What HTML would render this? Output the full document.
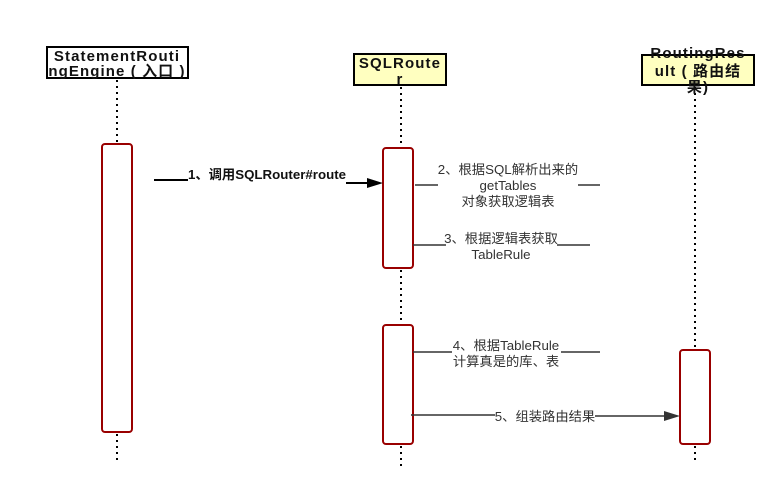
<!DOCTYPE html>
<html><head><meta charset="utf-8"><style>
html,body{margin:0;padding:0;background:#fff;width:779px;height:502px;overflow:hidden}
text{font-family:"Liberation Sans","Noto Sans CJK SC",sans-serif;font-size:13.3px;fill:#333}
.b{font-weight:bold;fill:#111}
.h{font-size:15px;letter-spacing:1.1px}
</style></head><body>
<svg width="779" height="502" viewBox="0 0 779 502" xmlns="http://www.w3.org/2000/svg">
<g stroke="#000" stroke-width="2" stroke-dasharray="2,4" fill="none">
<line x1="117" y1="80" x2="117" y2="143"/>
<line x1="117" y1="434" x2="117" y2="460"/>
<line x1="401" y1="87" x2="401" y2="147"/>
<line x1="401" y1="270" x2="401" y2="324"/>
<line x1="401" y1="446" x2="401" y2="466"/>
<line x1="695" y1="87" x2="695" y2="349"/>
<line x1="695" y1="446" x2="695" y2="460"/>
</g>
<rect x="47" y="47" width="141" height="31" fill="#fff" stroke="#000" stroke-width="2"/>
<rect x="354" y="54" width="92" height="31" fill="#ffffc0" stroke="#000" stroke-width="2"/>
<rect x="642" y="55" width="112" height="30" fill="#ffffc0" stroke="#000" stroke-width="2"/>
<text class="b h" x="117" y="61" text-anchor="middle">StatementRouti</text>
<text class="b h" x="117" y="76" text-anchor="middle">ngEngine ( 入口 )</text>
<text class="b h" x="400" y="68" text-anchor="middle">SQLRoute</text>
<text class="b h" x="400" y="84" text-anchor="middle">r</text>
<text class="b h" x="698" y="58" text-anchor="middle">RoutingRes</text>
<text class="b h" x="698" y="76" text-anchor="middle">ult ( 路由结</text>
<text class="b h" x="698" y="92" text-anchor="middle">果)</text>
<g fill="#fff" stroke="#990000" stroke-width="2">
<rect x="102" y="144" width="30" height="288" rx="3"/>
<rect x="383" y="148" width="30" height="120" rx="3"/>
<rect x="383" y="325" width="30" height="119" rx="3"/>
<rect x="680" y="350" width="30" height="94" rx="3"/>
</g>
<g stroke="#000" stroke-width="2">
<line x1="154" y1="180" x2="188" y2="180"/>
<line x1="346" y1="183" x2="370" y2="183"/>
</g>
<polygon points="383,183 367,178 367,188" fill="#000"/>
<text class="b" x="267" y="179" text-anchor="middle" font-size="13.5">1、调用SQLRouter#route</text>
<g stroke="#333" stroke-width="1.5">
<line x1="415" y1="185" x2="438" y2="185"/>
<line x1="578" y1="185" x2="600" y2="185"/>
<line x1="413" y1="245" x2="446" y2="245"/>
<line x1="557" y1="245" x2="590" y2="245"/>
<line x1="413" y1="352" x2="452" y2="352"/>
<line x1="561" y1="352" x2="600" y2="352"/>
<line x1="411" y1="415" x2="495" y2="415"/>
<line x1="595" y1="416" x2="668" y2="416"/>
</g>
<polygon points="680,416 664,411 664,421" fill="#333"/>
<text x="508" y="174" text-anchor="middle">2、根据SQL解析出来的</text>
<text x="508" y="190" text-anchor="middle">getTables</text>
<text x="508" y="206" text-anchor="middle">对象获取逻辑表</text>
<text x="501" y="243" text-anchor="middle">3、根据逻辑表获取</text>
<text x="501" y="259" text-anchor="middle">TableRule</text>
<text x="506" y="350" text-anchor="middle">4、根据TableRule</text>
<text x="506" y="366" text-anchor="middle">计算真是的库、表</text>
<text x="545" y="421" text-anchor="middle">5、组装路由结果</text>
</svg>
</body></html>
